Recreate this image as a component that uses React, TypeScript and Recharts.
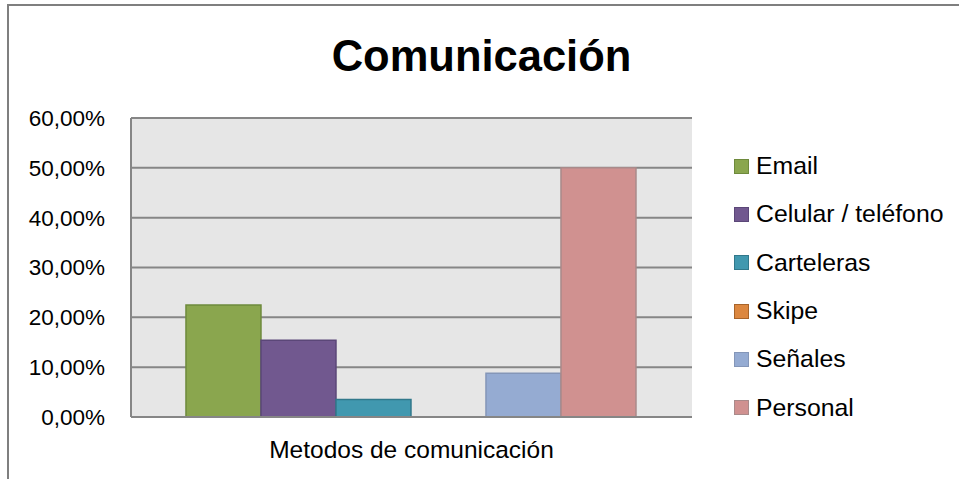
import React from 'react';
import { BarChart, Bar, XAxis, YAxis, CartesianGrid } from 'recharts';

const categories = ['Metodos de comunicación'];
const seriesNames = ['Email', 'Celular / teléfono', 'Carteleras', 'Skipe', 'Señales', 'Personal'];
const seriesValues = [0.225, 0.154, 0.035, 0, 0.088, 0.5];
const seriesFills = ['#8aa64e', '#71588f', '#4198af', '#dc873f', '#95abd2', '#d09190'];
const seriesStrokes = ['#6e8a3c', '#5b4778', '#31788b', '#a8642a', '#8496b8', '#a98a8a'];
const yTicks = [0, 0.1, 0.2, 0.3, 0.4, 0.5, 0.6];
const title = 'Comunicación';

const data = categories.map((c) => {
  const row: Record<string, string | number> = { name: c };
  seriesNames.forEach((s, i) => {
    row['s' + i] = seriesValues[i];
  });
  return row;
});

const fmt = (v: number) => (v * 100).toFixed(2).replace('.', ',') + '%';

const FONT = '"Liberation Sans", Arial, sans-serif';

export default function App() {
  return (
    <div style={{ position: 'absolute', left: 0, top: 0, width: 959, height: 479, overflow: 'hidden', background: '#fff' }}>
      <div
        style={{
          position: 'absolute',
          left: 7,
          top: 4,
          width: 970,
          height: 490,
          border: '2px solid #7f7f7f',
          boxSizing: 'border-box',
        }}
      />
      <div
        style={{
          position: 'absolute',
          left: 0,
          top: 0,
          width: 959,
          textAlign: 'center',
          paddingLeft: 4,
          boxSizing: 'border-box',
          fontFamily: FONT,
          fontWeight: 'bold',
          fontSize: 43.5,
          lineHeight: '42px',
          marginTop: 35,
          color: '#000',
        }}
      >
        {title}
      </div>
      <div style={{ position: 'absolute', left: 0, top: 0 }}>
        <BarChart
          width={959}
          height={479}
          data={data}
          margin={{ top: 118, right: 267, bottom: 22, left: 6 }}
          barCategoryGap="9.8%"
          barGap={0}
        >
          <CartesianGrid vertical={false} fill="#e6e6e6" stroke="#868686" strokeWidth={2} />
          <XAxis
            dataKey="name"
            tickLine={false}
            axisLine={{ stroke: '#868686', strokeWidth: 2 }}
            height={40}
            fontSize={24.5}
            tick={{ fontSize: 24.5, fill: '#000', fontFamily: FONT, dy: 16 }}
          />
          <YAxis
            width={125}
            domain={[0, 0.6]}
            ticks={yTicks}
            tickFormatter={fmt}
            tickLine={false}
            axisLine={{ stroke: '#868686', strokeWidth: 2 }}
            fontSize={22.5}
            tick={{ fontSize: 22.5, fill: '#000', fontFamily: FONT, dx: -18 }}
            interval={0}
          />
          {seriesNames.map((s, i) => (
            <Bar
              key={s}
              dataKey={'s' + i}
              name={s}
              fill={seriesFills[i]}
              stroke={seriesStrokes[i]}
              strokeWidth={1.5}
              isAnimationActive={false}
            />
          ))}
        </BarChart>
      </div>
      <div style={{ position: 'absolute', left: 734, top: 142, width: 225, fontFamily: FONT }}>
        {seriesNames.map((s, i) => (
          <div key={s} style={{ display: 'flex', alignItems: 'center', height: 48.3 }}>
            <span
              style={{
                display: 'inline-block',
                width: 13,
                height: 13,
                background: seriesFills[i],
                border: `1.5px solid ${seriesStrokes[i]}`,
                marginRight: 7,
                flexShrink: 0,
              }}
            />
            <span style={{ fontSize: 24.8, color: '#000', whiteSpace: 'nowrap' }}>{s}</span>
          </div>
        ))}
      </div>
    </div>
  );
}
